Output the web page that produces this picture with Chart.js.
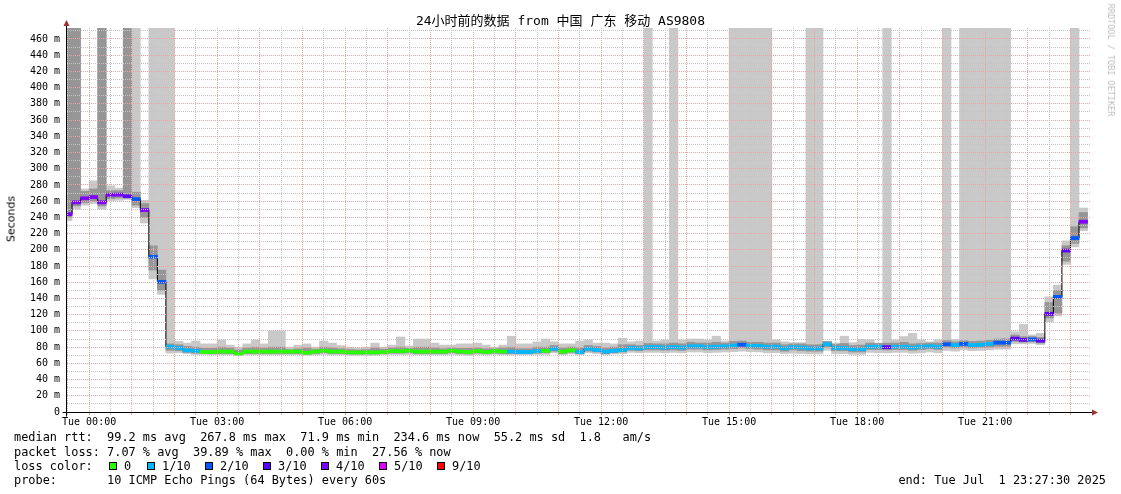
<!DOCTYPE html>
<html>
<head>
<meta charset="utf-8">
<title>24小时前的数据 from 中国 广东 移动 AS9808</title>
<script src="https://cdn.jsdelivr.net/npm/chart.js@4.4.1/dist/chart.umd.min.js"></script>
<style>
  html, body { margin: 0; padding: 0; background: #fff; }
  #wrap { position: relative; width: 1121px; height: 494px; overflow: hidden; }
  #chart { position: absolute; left: 0; top: 0; }
  .txt {
    position: absolute;
    font-family: "DejaVu Sans Mono", monospace;
    font-size: 11.9px;
    line-height: 14px;
    white-space: pre;
    color: #000;
  }
  #title {
    left: 0; width: 1121px; top: 13px; text-align: center;
    font-family: "DejaVu Sans Mono", "Noto Sans CJK SC", monospace;
    font-size: 13px; line-height: 16px;
  }
  #ylabel {
    position: absolute; left: 11px; top: 219px;
    transform: translate(-50%, -50%) rotate(-90deg);
    font-family: "DejaVu Sans", sans-serif; font-size: 11px; color: #000; white-space: nowrap;
  }
  #credit {
    position: absolute; left: 1111px; top: 60px;
    transform: translate(-50%, -50%) rotate(90deg);
    font-family: "DejaVu Sans Mono", monospace; font-size: 8.5px; color: #bdbdbd; white-space: nowrap;
  }
  .box { position: absolute; width: 6px; height: 6px; border: 1px solid #000; }
</style>
</head>
<body>
<div id="wrap">
  <canvas id="chart" width="1121" height="494"></canvas>
  <div id="title" class="txt">24小时前的数据 from 中国 广东 移动 AS9808</div>
  <div id="ylabel">Seconds</div>
  <div id="credit">RRDTOOL / TOBI OETIKER</div>
  <div class="txt" style="left:14px; top:430px;">median rtt:  99.2 ms avg  267.8 ms max  71.9 ms min  234.6 ms now  55.2 ms sd  1.8   am/s</div>
  <div class="txt" style="left:14px; top:445px;">packet loss: 7.07 % avg  39.89 % max  0.00 % min  27.56 % now</div>
  <div class="txt" style="left:14px; top:459px;">loss color:</div>
  <div id="lossLegend"></div>
  <div class="txt" style="left:14px; top:473px;">probe:       10 ICMP Echo Pings (64 Bytes) every 60s</div>
  <div class="txt" style="right:15px; top:473px;">end: Tue Jul  1 23:27:30 2025</div>
</div>
<script>
// x axis is minutes after Mon 23:27:30, one bucket = 12 minutes
const T = 473.5; // smoke running off the top of the graph
const bucketMinutes = 12;
const firstBucketStart = -3.5;

const timeLabels = ["Tue 00:00", "Tue 03:00", "Tue 06:00", "Tue 09:00",
  "Tue 12:00", "Tue 15:00", "Tue 18:00", "Tue 21:00"];

const lossLabels = ["0", "1/10", "2/10", "3/10", "4/10", "5/10", "9/10"];
const lossColors = ["#26ff00", "#00b8ff", "#0059ff", "#5e00ff", "#7e00ff", "#dd00ff", "#ff0000"];

// median rtt per bucket (ms)
const medianRtt = [
  244, 258.5, 263.5, 265, 258.5, 267.8, 268, 266, 262.5, 249,
  191.5, 160.5, 80.5, 79, 76, 75.5, 74, 74, 74.5, 74.5,
  71.9, 74.5, 74.5, 74.5, 74.5, 74.5, 74.5, 74.5, 73, 74.5,
  75.5, 74.5, 74.5, 73.5, 73.5, 73.5, 73.5, 74, 75, 75,
  75.5, 74.5, 74.5, 74.5, 74.5, 75.5, 74.5, 74, 75, 74,
  75, 74.5, 74.5, 74, 74, 75, 75.5, 78, 74.5, 76,
  74, 78, 76.5, 74.5, 75.5, 76.5, 79, 78.5, 80, 80,
  79.5, 80, 79.5, 81, 81, 80, 80.5, 81, 82, 83,
  81.5, 81.5, 80.5, 80.5, 78.5, 80, 79.5, 78.5, 78.5, 83.5,
  79, 79, 77.5, 77.5, 80.5, 80.5, 80, 80.5, 80.5, 79.5,
  80.5, 81, 80.5, 83.5, 82.5, 84, 82.5, 83, 84, 85.5,
  85.5, 90.5, 89, 89.5, 88, 121, 142, 199, 214.5, 234.6,
];

// index into lossColors per bucket
const lossIndex = [
  4, 4, 4, 4, 4, 4, 4, 3, 2, 4,
  2, 2, 1, 1, 1, 1, 0, 0, 0, 0,
  0, 0, 0, 0, 0, 0, 0, 0, 0, 0,
  0, 0, 0, 0, 0, 0, 0, 0, 0, 0,
  0, 0, 0, 0, 0, 0, 0, 0, 0, 0,
  0, 0, 1, 1, 1, 1, 0, 1, 0, 0,
  1, 1, 1, 1, 1, 1, 1, 1, 1, 1,
  1, 1, 1, 1, 1, 1, 1, 1, 1, 2,
  1, 1, 1, 1, 1, 1, 1, 1, 1, 1,
  1, 1, 1, 1, 1, 1, 3, 1, 1, 1,
  1, 1, 1, 2, 1, 2, 1, 1, 1, 2,
  2, 3, 3, 2, 3, 3, 2, 3, 2, 4,
];

// outer smoke (fastest .. slowest ping)
const smokeHigh = [
  T, T, 275, 285, T, 279, 276, T, T, 261,
  T, T, T, 87, 85, 87.5, 84, 84, 89, 82.5,
  80, 84, 89, 84, 100, 100, 80, 82.5, 84, 80,
  87.5, 85, 82, 80, 79, 80, 85, 80, 82.5, 92.5,
  81.5, 90, 90, 85, 82.5, 82.5, 84, 84, 85, 82.5,
  80, 82.5, 93.5, 84, 84, 86.5, 90, 86.5, 84, 84,
  87.5, 89, 85, 85, 84, 91, 86.5, 87.5, T, 87.5,
  89, T, 89, 90, 90, 89, 93.5, 87.5, T, T,
  T, T, T, 89, 86.5, 85.5, 85.5, T, T, 87,
  85, 93.5, 85.5, 89.5, 89, 85, T, 89, 93, 97,
  89, 86.5, 89, T, 89.5, T, T, T, T, T,
  T, 99, 108, 95, 97, 142, 156.5, 211, T, 251.5,
];
const smokeLow = [
  236, 250, 255, 257, 250, 260.5, 261, 262, 252, 233,
  164, 145, 72.5, 73, 72, 71, 71, 70.5, 70.5, 70.5,
  70, 70.5, 70.5, 70.5, 70.5, 70.5, 70.5, 70.5, 70, 70.5,
  71, 70.5, 70.5, 70, 70, 70, 70, 70.5, 71, 71,
  71, 70.5, 70.5, 70.5, 70.5, 71, 70.5, 70, 71, 70.5,
  71, 70.5, 70.5, 70.5, 70.5, 71, 71, 73, 70.5, 71.5,
  70.5, 73, 72, 70.5, 71.5, 72, 73.5, 73, 73.5, 73.5,
  73, 73.5, 73, 74, 74, 73, 73.5, 74, 74.5, 75,
  74.5, 74, 73, 73, 72, 72.5, 72, 71.5, 71.5, 76,
  72, 72, 71, 71, 73.5, 73, 73, 73.5, 73.5, 72.5,
  73, 74, 73, 76, 75, 76.5, 75.5, 76, 76.5, 77.5,
  77.5, 84, 84, 84.5, 83, 111, 118.5, 182, 203.5, 223.5,
];

// inner, darker smoke
const coreHigh = [
  T, T, 272, 275, T, 273, 273, T, 271, 257,
  205, 175, 84, 83, 81, 80, 78.5, 78.5, 80, 79,
  76.5, 79, 80, 79, 80, 80, 77, 78, 79, 77.5,
  80, 79, 78, 77, 76.5, 77, 79, 77.5, 79, 80,
  78.5, 80, 80, 79, 78, 79, 78.5, 78.5, 79, 78,
  78, 79, 80, 78, 78, 80, 80, 82, 79, 80,
  79, 82, 81, 79, 80, 83, 83, 82, 84.5, 84,
  84, 85, 84, 86, 85, 85, 86, 85, 87, 87.5,
  86, 86, 85, 85, 83, 84, 84, 83, 83, 87,
  83.5, 84.5, 82, 82.5, 85, 84.5, 85, 85, 86, 84,
  84.5, 85, 85, 88, 86.5, 88, 87, 87.5, 88.5, 90,
  90.5, 95, 93, 93, 92, 135, 150, 205, 228.5, 246,
];
const coreLow = [
  240, 254, 258, 260, 254, 263, 264, 264, 255, 240,
  175, 150, 76, 75.5, 73.5, 72.5, 72.5, 72, 72, 72,
  71, 72, 72, 72, 72, 72, 72, 72, 71.5, 72,
  73, 72, 72, 71.5, 71.5, 71.5, 71.5, 72, 72.5, 72.5,
  73, 72, 72, 72, 72, 73, 72, 71.5, 72.5, 72,
  72.5, 72, 72, 72, 72, 72.5, 73, 75, 72, 73.5,
  72, 75, 74, 72, 73, 74, 76, 75.5, 76.5, 76.5,
  76, 76.5, 76, 77.5, 77.5, 76.5, 77, 77.5, 78, 79,
  78, 77.5, 76.5, 76.5, 75, 76.5, 75.5, 75, 75, 80,
  75.5, 75.5, 74, 74, 77, 77, 76.5, 77, 77, 76,
  77, 78, 77, 80, 79, 80, 79, 79.5, 80, 81,
  81, 87, 86, 86.5, 85, 116, 122, 186, 208, 227,
];

const RED = "#eea3a3";
const GRAY = "#c4c4c4";

// loss colour legend boxes
const boxX = [109, 147, 205, 263, 321, 379, 437];
const labelX = [124, 162, 220, 278, 336, 394, 452];
const legend = document.getElementById("lossLegend");
lossLabels.forEach((lbl, i) => {
  const b = document.createElement("div");
  b.className = "box";
  b.style.left = boxX[i] + "px";
  b.style.top = "462px";
  b.style.background = lossColors[i];
  legend.appendChild(b);
  const t = document.createElement("div");
  t.className = "txt";
  t.style.left = labelX[i] + "px";
  t.style.top = "459px";
  t.textContent = lbl;
  legend.appendChild(t);
});

const centers = medianRtt.map((_, i) => firstBucketStart + bucketMinutes * i + bucketMinutes / 2);
const floating = (lo, hi) => lo.map((v, i) => ({ x: centers[i], y: [v, hi[i]] }));

// black median line, one step per bucket
const steps = medianRtt.map((m, i) => ({ x: firstBucketStart + bucketMinutes * i, y: m }));
steps.push({ x: firstBucketStart + bucketMinutes * medianRtt.length, y: medianRtt[medianRtt.length - 1] });

// grid every half hour starting 23:30
const gridMinutes = [];
for (let v = 2.5; v < 1440; v += 30) gridMinutes.push(v);
const yGrid = [];
for (let v = 0; v <= 470; v += 10) yGrid.push(v);

const barCommon = {
  type: "bar",
  grouped: false,
  barPercentage: 1,
  categoryPercentage: 1,
  borderWidth: 0,
  clip: 0,
};

const axisArrows = {
  id: "axisArrows",
  afterDraw(chart) {
    const { ctx, chartArea: a } = chart;
    const x0 = Math.round(a.left) + 0.5;
    const y0 = Math.round(a.bottom) + 0.5;
    ctx.save();
    ctx.strokeStyle = "#000";
    ctx.lineWidth = 1;
    ctx.beginPath();
    ctx.moveTo(x0, y0 + 4);
    ctx.lineTo(x0, a.top - 3);
    ctx.moveTo(x0 - 4, y0);
    ctx.lineTo(a.right + 3, y0);
    ctx.stroke();
    ctx.fillStyle = "#a03030";
    ctx.beginPath();
    ctx.moveTo(x0, a.top - 8);
    ctx.lineTo(x0 - 3, a.top - 2);
    ctx.lineTo(x0 + 3, a.top - 2);
    ctx.closePath();
    ctx.fill();
    ctx.beginPath();
    ctx.moveTo(a.right + 8, y0);
    ctx.lineTo(a.right + 2, y0 - 3);
    ctx.lineTo(a.right + 2, y0 + 3);
    ctx.closePath();
    ctx.fill();
    ctx.restore();
  },
};

new Chart(document.getElementById("chart"), {
  type: "bar",
  data: {
    datasets: [
      {
        ...barCommon,
        label: "median",
        data: medianRtt.map((m, i) => ({ x: centers[i], y: [m - 1.9, m + 1.9] })),
        backgroundColor: lossIndex.map((k) => lossColors[k]),
        order: 0,
      },
      {
        type: "line",
        label: "median line",
        data: steps,
        stepped: "before",
        borderColor: "#000",
        borderWidth: 1,
        pointRadius: 0,
        fill: false,
        clip: 0,
        order: 1,
      },
      {
        ...barCommon,
        label: "core smoke",
        data: floating(coreLow, coreHigh),
        backgroundColor: "#969696",
        order: 2,
      },
      {
        ...barCommon,
        label: "smoke",
        data: floating(smokeLow, smokeHigh),
        backgroundColor: "#c9c9c9",
        order: 3,
      },
    ],
  },
  options: {
    responsive: false,
    animation: false,
    devicePixelRatio: 1,
    layout: { padding: { left: 0, right: 31, top: 28, bottom: 0 } },
    plugins: {
      legend: { display: false },
      title: { display: false },
      tooltip: { enabled: false },
    },
    scales: {
      x: {
        type: "linear",
        min: 0,
        max: 1440,
        offset: false,
        afterBuildTicks: (s) => {
          s.ticks = gridMinutes.map((v) => ({ value: v }));
        },
        afterFit: (s) => {
          s.height = 82;
        },
        ticks: {
          autoSkip: false,
          maxRotation: 0,
          minRotation: 0,
          padding: 1,
          color: "#000",
          font: { family: "'DejaVu Sans Mono', monospace", size: 10 },
          callback: (v) => {
            const k = (v - 32.5) / 180;
            return Number.isInteger(k) && k >= 0 ? timeLabels[k] : "";
          },
        },
        grid: {
          z: 1,
          offset: false,
          tickLength: 3,
          color: (c) => ((c.tick.value - 32.5) % 60 === 0 ? RED : GRAY),
        },
        border: { z: 2, color: "#000", dash: [1, 1] },
      },
      y: {
        min: 0,
        max: T,
        afterBuildTicks: (s) => {
          s.ticks = yGrid.map((v) => ({ value: v }));
        },
        afterFit: (s) => {
          s.width = 66;
        },
        ticks: {
          autoSkip: false,
          padding: 6,
          color: "#000",
          font: { family: "'DejaVu Sans Mono', monospace", size: 10 },
          callback: (v) => (v % 20 === 0 ? (v === 0 ? "0" : v + " m") : ""),
        },
        grid: {
          z: 1,
          drawTicks: false,
          color: (c) => (c.tick.value % 20 === 0 ? RED : GRAY),
        },
        border: { z: 2, color: "#000", dash: [1, 1] },
      },
    },
  },
  plugins: [axisArrows],
});
</script>
</body>
</html>
